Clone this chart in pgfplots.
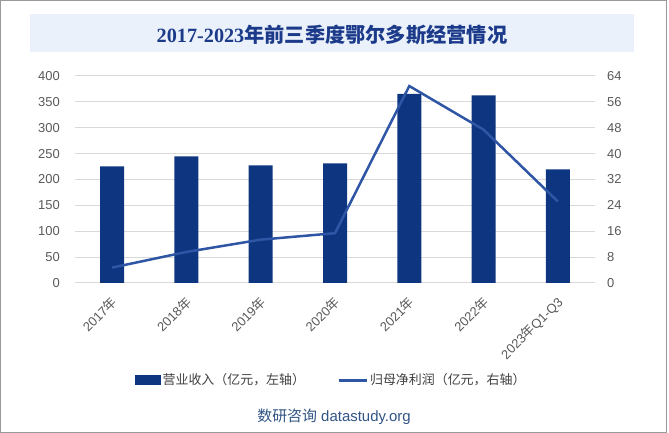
\documentclass[border=0pt]{standalone}
\usepackage{pgfplots}
\pgfplotsset{compat=1.18}
\usepackage{fontspec}
\setmainfont{Liberation Sans}
\newfontfamily\cjk{Noto Sans CJK SC}
\newfontfamily\serifb{Liberation Serif}
\definecolor{barc}{RGB}{14,54,128}
\definecolor{linec}{RGB}{47,85,165}
\definecolor{gridc}{RGB}{217,217,217}
\definecolor{tickc}{RGB}{89,89,89}
\definecolor{titlec}{RGB}{27,58,138}
\definecolor{bannerc}{RGB}{234,241,251}
\definecolor{legc}{RGB}{64,64,64}
\definecolor{footc}{RGB}{47,84,133}
\begin{document}
\begin{tikzpicture}[x=1bp,y=1bp]
\path (0,0) rectangle (669,433);
\draw[gray!80, line width=1bp] (0.5,0.5) rectangle (666,432.5);
\fill[bannerc] (30,381) rectangle (634,419);
\node[text=titlec, inner sep=0] at (332,398) {\fontsize{20.3}{23}\selectfont\bfseries{\serifb 2017-2023}{\cjk 年前三季度鄂尔多斯经营情况}};
\node[text=footc, inner sep=0] at (334,16) {\fontsize{15}{18}\selectfont{\cjk 数研咨询} datastudy.org};
\begin{axis}[
  at={(75bp,150bp)}, anchor=south west,
  width=520bp, height=207bp, scale only axis,
  xmin=-0.5, xmax=6.5, ymin=0, ymax=400,
  ybar, bar width=24bp,
  axis x line*=bottom, axis y line*=left,
  y axis line style={draw=none},
  x axis line style={draw=gridc, line width=1bp, -},
  ymajorgrids, grid style={draw=gridc, line width=1bp},
  major tick length=0,
  ytick={0,50,...,400},
  xtick={0,...,6},
  xticklabels={2017{\cjk 年},2018{\cjk 年},2019{\cjk 年},2020{\cjk 年},2021{\cjk 年},2022{\cjk 年},2023{\cjk 年}Q1-Q3},
  xticklabel style={yshift=-12bp, xshift=-2bp, rotate=45, anchor=north east, inner sep=0, font=\fontsize{13}{15}\selectfont, text=tickc},
  yticklabel style={anchor=east, inner sep=0, xshift=-15bp, font=\fontsize{13}{15}\selectfont, text=tickc},
  /pgf/number format/assume math mode=true,
  clip=false,
]
\addplot[fill=barc, draw=none] coordinates {(0,225.5) (1,244.8) (2,227.4) (3,231.3) (4,365.2) (5,362.7) (6,219.7)};
\end{axis}
\begin{axis}[
  at={(75bp,150bp)}, anchor=south west,
  width=520bp, height=207bp, scale only axis,
  xmin=-0.5, xmax=6.5, ymin=0, ymax=64,
  axis x line=none, axis y line*=right,
  y axis line style={draw=none},
  major tick length=0,
  ytick={0,8,...,64},
  yticklabel style={anchor=west, inner sep=0, xshift=12bp, font=\fontsize{13}{15}\selectfont, text=tickc},
  /pgf/number format/assume math mode=true,
  legend columns=2,
  legend style={at={(0.493,-0.469)}, anchor=center, draw=none, fill=none,
    font=\fontsize{13}{15}\selectfont\cjk, text=legc,
    /tikz/every even column/.append style={column sep=30bp}},
  clip=false,
]
\addlegendimage{legend image code/.code={\fill[barc] (0bp,-4.5bp) rectangle (25bp,4.5bp);}}
\addlegendentry{营业收入（亿元，左轴）}
\addplot[linec, line width=2.5bp, mark=none, legend image code/.code={\draw[linec, line width=3bp] (0bp,0bp) -- (28bp,0bp);}] coordinates {(0,4.76) (1,9.6) (2,13.4) (3,15.4) (4,60.9) (5,47.4) (6,25.2)};
\addlegendentry{归母净利润（亿元，右轴）}
\end{axis}
\end{tikzpicture}
\end{document}
